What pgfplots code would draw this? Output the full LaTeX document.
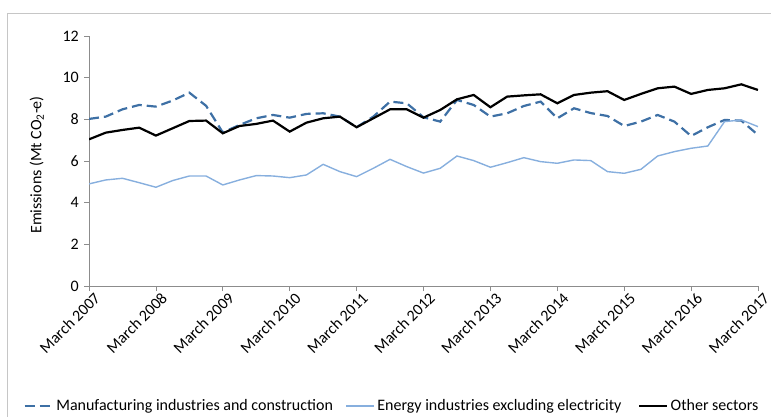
\documentclass[border=0pt]{standalone}
\usepackage{pgfplots}
\pgfplotsset{compat=1.18}
\usepackage{fontspec}
\setmainfont{Carlito}
\definecolor{manu}{RGB}{62,112,165}
\definecolor{energy}{RGB}{135,175,222}
\definecolor{axisgray}{RGB}{140,140,140}
\pgfplotstableread{
i manu energy other
0 8.02 4.90 7.04
1 8.13 5.09 7.36
2 8.48 5.17 7.49
3 8.69 4.96 7.60
4 8.61 4.74 7.22
5 8.90 5.06 7.57
6 9.28 5.28 7.92
7 8.65 5.28 7.94
8 7.37 4.85 7.33
9 7.73 5.09 7.68
10 8.05 5.30 7.78
11 8.21 5.28 7.94
12 8.08 5.20 7.41
13 8.26 5.33 7.84
14 8.29 5.84 8.05
15 8.13 5.49 8.13
16 7.62 5.25 7.62
17 8.13 5.65 8.05
18 8.85 6.08 8.48
19 8.77 5.73 8.48
20 8.10 5.42 8.08
21 7.89 5.65 8.45
22 8.93 6.24 8.96
23 8.69 6.02 9.17
24 8.13 5.70 8.58
25 8.29 5.92 9.09
26 8.64 6.16 9.15
27 8.85 5.97 9.20
28 8.05 5.89 8.77
29 8.53 6.05 9.17
30 8.30 6.02 9.28
31 8.16 5.49 9.35
32 7.68 5.41 8.93
33 7.89 5.60 9.22
34 8.21 6.24 9.49
35 7.89 6.45 9.57
36 7.20 6.61 9.22
37 7.62 6.72 9.41
38 7.97 7.89 9.49
39 7.94 7.97 9.68
40 7.25 7.65 9.41
}\datatable
\begin{document}
\begin{tikzpicture}[font=\fontsize{16bp}{19bp}\selectfont]
\useasboundingbox (0bp,0bp) rectangle (771bp,417bp);
\draw[gray!45, line width=1bp] (7bp,-10bp) -- (7bp,403bp) -- (790bp,403bp);
\begin{axis}[
  at={(89bp,131bp)}, anchor=south west, scale only axis,
  width=669bp, height=250bp,
  xmin=0, xmax=40, ymin=0, ymax=12,
  axis lines=left,
  axis line style={axisgray, line width=0.8bp, -},
  xtick={0,4,...,40},
  xticklabels={March 2007,March 2008,March 2009,March 2010,March 2011,March 2012,March 2013,March 2014,March 2015,March 2016,March 2017},
  ytick={0,2,...,12},
  tick align=outside,
  major tick length=5bp,
  tick style={axisgray, line width=0.8bp},
  /pgf/number format/assume math mode=true,
  xticklabel style={rotate=45, anchor=east, inner sep=1bp, xshift=4bp, yshift=-9bp},
  yticklabel style={inner sep=1bp, xshift=-4bp},
  ylabel={Emissions (Mt CO\textsubscript{2}-e)},
  ylabel style={at={(axis description cs:-0.078,0.484)}, anchor=center},
  legend columns=3,
  legend style={at={(axis description cs:-0.098,-0.48)}, anchor=west,
    draw=none, fill=none, inner sep=0bp,
    nodes={inner sep=2.5bp, font=\fontsize{16bp}{19bp}\selectfont},
    /tikz/column 2/.style={column sep=10bp},
    /tikz/column 4/.style={column sep=14bp}},
  legend image code/.code={\draw[#1] (0bp,0bp) -- (28bp,0bp);},
]
\addplot[manu, line width=2.2bp, dash pattern=on 10bp off 5bp] table[x=i, y=manu] {\datatable};
\addlegendentry{Manufacturing industries and construction}
\addplot[energy, line width=1.4bp] table[x=i, y=energy] {\datatable};
\addlegendentry{Energy industries excluding electricity}
\addplot[black, line width=2.2bp] table[x=i, y=other] {\datatable};
\addlegendentry{Other sectors}
\end{axis}
\end{tikzpicture}
\end{document}
